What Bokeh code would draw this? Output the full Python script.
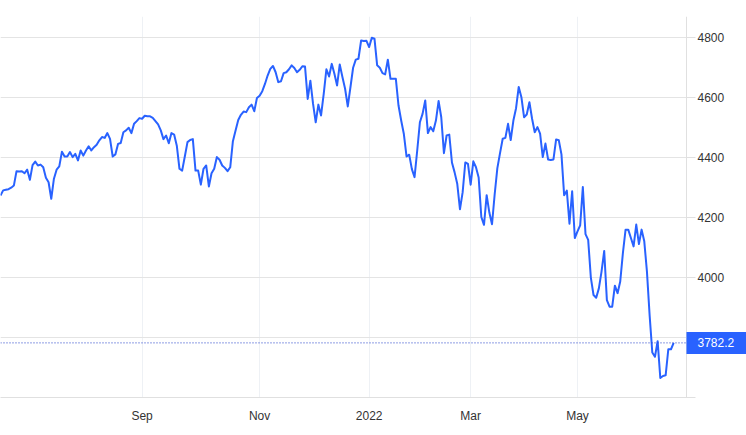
from bokeh.plotting import figure
from bokeh.models import Range1d, FixedTicker, Span, Label, BoxAnnotation
from bokeh.embed import file_html
from bokeh.resources import INLINE

# Daily index level, one value per trading session
values = [
    4274, 4291, 4293, 4295, 4300, 4307, 4355, 4354, 4355, 4348,
    4360, 4326, 4375, 4387, 4374, 4377, 4368, 4333, 4318, 4263,
    4330, 4360, 4371, 4420, 4404, 4404, 4419, 4402, 4413, 4391,
    4424, 4407, 4424, 4438, 4424, 4435, 4443, 4458, 4469, 4466,
    4482, 4463, 4404, 4411, 4446, 4449, 4485, 4491, 4500, 4482,
    4513, 4522, 4532, 4530, 4540, 4538, 4538, 4533, 4522, 4511,
    4491, 4462, 4474, 4448, 4482, 4477, 4440, 4363, 4357, 4404,
    4452, 4459, 4462, 4357, 4357, 4310, 4363, 4374, 4304, 4348,
    4363, 4402, 4393, 4374, 4366, 4355, 4368, 4455, 4491, 4526,
    4543, 4554, 4552, 4568, 4577, 4555, 4599, 4607, 4622, 4646,
    4674, 4696, 4706, 4685, 4652, 4655, 4682, 4685, 4695, 4708,
    4699, 4685, 4693, 4705, 4704, 4596, 4657, 4580, 4518, 4577,
    4541, 4613, 4695, 4671, 4713, 4680, 4641, 4711, 4669, 4630,
    4571, 4635, 4700, 4727, 4730, 4791, 4789, 4790, 4769, 4800,
    4797, 4708, 4700, 4682, 4678, 4727, 4663, 4663, 4663, 4574,
    4524, 4479, 4404, 4410, 4362, 4335, 4424, 4518, 4546, 4591,
    4482, 4502, 4488, 4524, 4589, 4535, 4415, 4474, 4477, 4384,
    4351, 4312, 4228, 4284, 4384, 4379, 4310, 4388, 4368, 4334,
    4202, 4176, 4275, 4217, 4178, 4278, 4365, 4415, 4463, 4466,
    4513, 4459, 4524, 4565, 4636, 4602, 4535, 4544, 4585, 4530,
    4485, 4502, 4480, 4402, 4447, 4394, 4392, 4394, 4461, 4458,
    4411, 4275, 4290, 4180, 4288, 4132, 4154, 4174, 4302, 4145,
    4126, 4000, 3942, 3933, 3964, 4020, 4089, 3925, 3903, 3903,
    3973, 3948, 3987, 4082, 4160, 4160, 4132, 4104, 4177, 4112,
    4160, 4121, 4020, 3875, 3750, 3736, 3788, 3665, 3672, 3674,
    3761, 3761, 3782.2,
]
sessions = list(range(len(values)))

# Month gridlines (session number of the first session of the month)
month_ticks = [53, 97, 138, 176, 216]
month_labels = ["Sep", "Nov", "2022", "Mar", "May"]
y_ticks = [3800, 4000, 4200, 4400, 4600, 4800]

last_value = values[-1]

FONT = "Liberation Sans"
BLUE = "#2962ff"
X_START, X_AXIS, X_END = 0, 256.8, 279.27   # plotting area ends at the price axis
Y_START, Y_END = 3600, 4871
FRAME_H = 381
TAG_HALF = 11 * (Y_END - Y_START) / FRAME_H  # half height (11 px) of the price tag

p = figure(
    frame_width=746, frame_height=FRAME_H,
    x_range=Range1d(X_START, X_END), y_range=Range1d(Y_START, Y_END),
    y_axis_location="right",
    output_backend="svg", toolbar_location=None,
    min_border_left=0, min_border_top=16, min_border_right=0, min_border_bottom=38,
)
p.outline_line_color = None
p.background_fill_color = "white"

# grid (vertical ones lighter than horizontal ones)
p.xgrid.grid_line_color = "#eef1f5"
p.ygrid.grid_line_color = "#e4e4e4"
# keep the grid out of the price-axis strip
p.add_layout(BoxAnnotation(left=X_AXIS, fill_color="white", fill_alpha=1.0,
                           line_color=None, level="underlay"))

p.line(sessions, values, line_color=BLUE, line_width=2, line_join="round")

p.add_layout(Span(location=last_value, dimension="width", line_color="#1e3cc8",
                  line_dash="1 2", line_width=1))

# x axis
p.xaxis.ticker = FixedTicker(ticks=month_ticks)
p.xaxis.major_label_overrides = {t: l for t, l in zip(month_ticks, month_labels)}
p.xaxis.bounds = (X_START, X_AXIS + 3.5)
p.xaxis.axis_line_color = "#e0e0e0"
p.xaxis.major_tick_line_color = None
p.xaxis.minor_tick_line_color = None
p.xaxis.major_label_standoff = 5
p.xaxis.major_label_text_font = FONT
p.xaxis.major_label_text_font_size = "12px"
p.xaxis.major_label_text_color = "#333333"

# y (price) axis, on the right edge of the plotting area
p.yaxis.fixed_location = X_AXIS
p.yaxis.ticker = FixedTicker(ticks=y_ticks)
p.yaxis.axis_line_color = "#e0e0e0"
p.yaxis.major_tick_line_color = "#e0e0e0"
p.yaxis.major_tick_out = 9
p.yaxis.major_tick_in = 0
p.yaxis.minor_tick_line_color = None
p.yaxis.major_label_standoff = 2
p.yaxis.major_label_text_font = FONT
p.yaxis.major_label_text_font_size = "12px"
p.yaxis.major_label_text_color = "#333333"

# last-price tag
p.add_layout(BoxAnnotation(left=X_AXIS, right=X_END,
                           bottom=last_value - TAG_HALF, top=last_value + TAG_HALF,
                           fill_color=BLUE, fill_alpha=1.0, line_color=None))
p.add_layout(Label(
    x=X_AXIS, y=last_value, x_offset=11, text=f"{last_value:.1f}",
    text_color="white", text_font=FONT, text_font_size="12px",
    text_align="left", text_baseline="middle",
))

open("out.html", "w").write(file_html(p, INLINE))
